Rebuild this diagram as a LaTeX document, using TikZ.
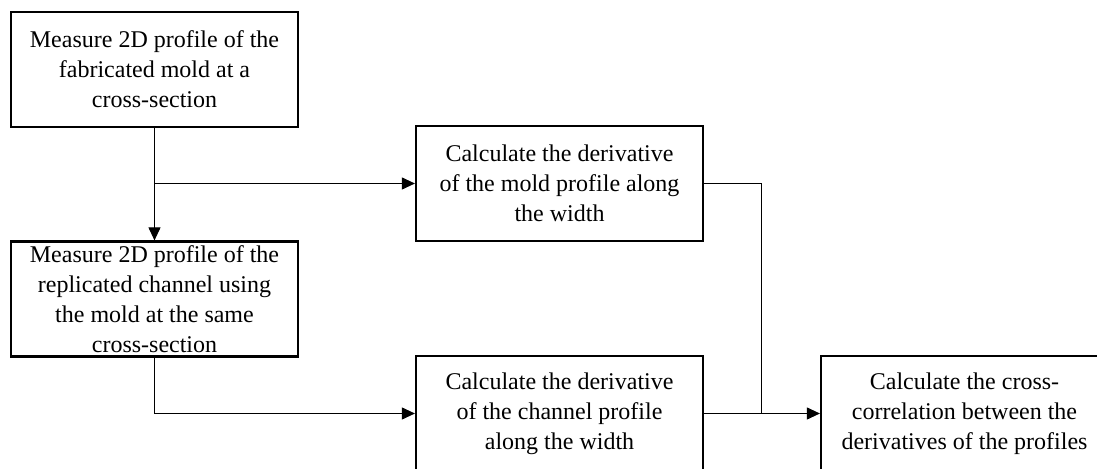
\documentclass[tikz,border=0pt]{standalone}
\usepackage{fontspec}
\setmainfont{Liberation Serif}
\usetikzlibrary{arrows.meta}

\tikzset{
  stepbox/.style={draw, line width=1.1pt, minimum width=143.5pt, minimum height=57.5pt,
    inner sep=0pt, align=center, font=\fontsize{12}{15}\selectfont},
  flow/.style={line width=0.5pt, -{Triangle[length=6.5pt,width=6pt]}},
  link/.style={line width=0.5pt}
}

\begin{document}
\begin{tikzpicture}[x=0.5pt,y=-0.5pt]
        \useasboundingbox (0,0) rectangle (1097,469);
        \clip (0,0) rectangle (1097,469);
        % measurement steps
        \node[stepbox] (mold) at (154.5,69.5) {Measure 2D profile of the\\fabricated mold at a\\cross-section};
        \node[stepbox] (chan) at (154.5,299) {Measure 2D profile of the\\replicated channel using\\the mold at the same\\cross-section};
        % derivatives
        \node[stepbox] (dmold) at (559.5,183.5) {Calculate the derivative\\of the mold profile along\\the width};
        \node[stepbox] (dchan) at (559.5,413.5) {Calculate the derivative\\of the channel profile\\along the width};
        \node[stepbox] (xcorr) at (964.5,413.5) {Calculate the cross-\\correlation between the\\derivatives of the profiles};
        \coordinate (split) at (mold.south |- dmold.west);
        \coordinate (join) at (761,0 |- dchan.east);
        \draw[flow] (mold) -- (chan);
        \draw[flow] (split) -- (dmold);
        \draw[flow] (chan) |- (dchan);
        \draw[link] (dmold) -| (join);
        \draw[flow] (dchan) -- (xcorr);
\end{tikzpicture}
\end{document}
